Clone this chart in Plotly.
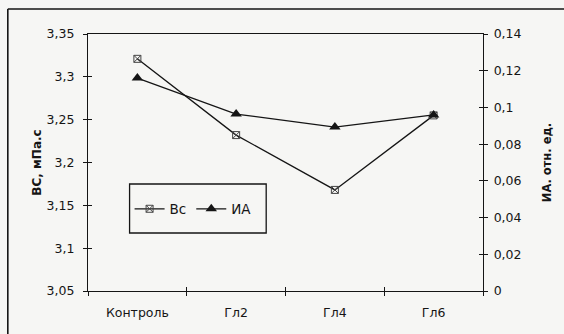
import plotly.graph_objects as go

categories = ["Контроль", "Гл2", "Гл4", "Гл6"]
vs_values = [3.321, 3.232, 3.168, 3.255]
ia_values = [0.116, 0.0964, 0.0893, 0.0959]
left_ticks = [3.05, 3.1, 3.15, 3.2, 3.25, 3.3, 3.35]
left_labels = ["3,05", "3,1", "3,15", "3,2", "3,25", "3,3", "3,35"]
right_ticks = [0, 0.02, 0.04, 0.06, 0.08, 0.1, 0.12, 0.14]
right_labels = ["0", "0,02", "0,04", "0,06", "0,08", "0,1", "0,12", "0,14"]

font = "DejaVu Sans, sans-serif"
bg = "#f6f6f4"
ink = "#151515"

W, H = 564, 334
L, R, T, B = 88, 77, 34, 43
PW, PH = W - L - R, H - T - B

def px(x):
    return (x - L) / PW

def py(y):
    return (H - B - y) / PH

fig = go.Figure()
fig.add_trace(go.Scatter(
    x=categories, y=vs_values, name="Вс", mode="lines+markers",
    line=dict(color=ink, width=1.3),
    marker=dict(symbol="square-x-open", size=7, color="#444", line=dict(width=1, color="#444")),
    yaxis="y",
))
fig.add_trace(go.Scatter(
    x=categories, y=ia_values, name="ИА", mode="lines+markers",
    line=dict(color=ink, width=1.3),
    marker=dict(symbol="triangle-up", size=10, color=ink),
    yaxis="y2",
))
# dummy traces to activate the inside-tick overlay axes
fig.add_trace(go.Scatter(x=[categories[0]], y=[None], yaxis="y3", showlegend=False, hoverinfo="skip"))
fig.add_trace(go.Scatter(x=[categories[0]], y=[None], yaxis="y4", showlegend=False, hoverinfo="skip"))
fig.add_trace(go.Scatter(x=[categories[0]], y=[None], xaxis="x2", showlegend=False, hoverinfo="skip"))

fig.update_layout(
    width=W, height=H,
    margin=dict(l=L, r=R, t=T, b=B),
    paper_bgcolor=bg, plot_bgcolor=bg,
    font=dict(family=font, size=12.5, color=ink),
    showlegend=True,
    legend=dict(
        x=px(130), y=py(209), xanchor="left", yanchor="middle",
        orientation="h", borderwidth=0,
        bgcolor="rgba(0,0,0,0)", font=dict(size=13.5, family=font),
    ),
    xaxis=dict(
        type="category", tickson="boundaries", ticks="outside", ticklen=4,
        tickcolor=ink, showline=True, linecolor=ink, linewidth=1.3,
        mirror=True, showgrid=False, range=[-0.5, 3.5],
        tickfont=dict(size=12.5), zeroline=False, ticklabelstandoff=10,
    ),
    yaxis=dict(
        range=[3.05, 3.35], tickvals=left_ticks, ticktext=left_labels,
        ticks="outside", ticklen=4, tickcolor=ink,
        showline=True, linecolor=ink, linewidth=1.3,
        showgrid=False, zeroline=False, tickfont=dict(size=12.5),
        ticklabelstandoff=6,
        title=dict(text="<b>ВС, мПа.с</b>", font=dict(size=12), standoff=2),
    ),
    yaxis2=dict(
        range=[0, 0.14], tickvals=right_ticks, ticktext=right_labels,
        overlaying="y", side="right",
        ticks="outside", ticklen=4, tickcolor=ink,
        showline=True, linecolor=ink, linewidth=1.3,
        showgrid=False, zeroline=False, tickfont=dict(size=12.5),
        ticklabelstandoff=3,
        title=dict(text="<b>ИА. отн. ед.</b>", font=dict(size=11.5), standoff=22),
    ),
    yaxis3=dict(
        range=[3.05, 3.35], tickvals=left_ticks, showticklabels=False,
        overlaying="y", side="left", ticks="inside", ticklen=4, tickcolor=ink,
        showgrid=False, zeroline=False, showline=False,
    ),
    yaxis4=dict(
        range=[0, 0.14], tickvals=right_ticks, showticklabels=False,
        overlaying="y", side="right", ticks="inside", ticklen=4, tickcolor=ink,
        showgrid=False, zeroline=False, showline=False,
    ),
    xaxis2=dict(
        type="category", tickson="boundaries", overlaying="x", side="bottom",
        ticks="inside", ticklen=4, tickcolor=ink, showticklabels=False,
        showgrid=False, zeroline=False, range=[-0.5, 3.5], anchor="y",
        categoryorder="array", categoryarray=categories,
    ),
    shapes=[
        # outer frame (top and left edges visible in the reference)
        dict(type="line", xref="paper", yref="paper", x0=px(7), x1=px(570),
             y0=py(9), y1=py(9), line=dict(color=ink, width=1.6)),
        dict(type="line", xref="paper", yref="paper", x0=px(7), x1=px(7),
             y0=py(9), y1=py(340), line=dict(color=ink, width=1.6)),
        # legend box
        dict(type="rect", xref="paper", yref="paper", x0=px(130), x1=px(268),
             y0=py(233), y1=py(184), line=dict(color=ink, width=1.3),
             fillcolor=bg, layer="below"),
    ],
)

fig.write_html("out.html")
